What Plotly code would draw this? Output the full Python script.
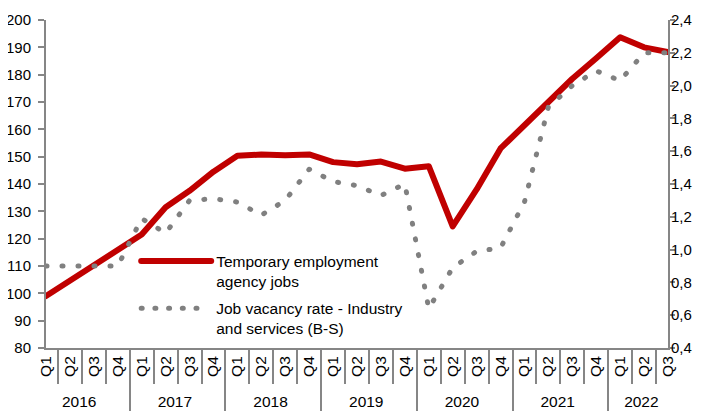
import plotly.graph_objects as go

years = ['2016'] * 4 + ['2017'] * 4 + ['2018'] * 4 + ['2019'] * 4 + ['2020'] * 4 + ['2021'] * 4 + ['2022'] * 3
quarters = ['Q1', 'Q2', 'Q3', 'Q4'] * 6 + ['Q1', 'Q2', 'Q3']

temp_jobs = [99, 104.5, 110, 115.5,
             121.5, 131.5, 137.5, 144.5,
             150.3, 150.8, 150.5, 150.8,
             148, 147.2, 148.2, 145.6,
             146.5, 124.5, 138, 153,
             161.5, 170, 178.5, 186,
             193.7, 190, 188.3]

vacancy = [0.90, 0.90, 0.90, 0.90,
           1.19, 1.10, 1.30, 1.31,
           1.29, 1.21, 1.30, 1.49,
           1.415, 1.39, 1.33, 1.40,
           0.64, 0.89, 0.99, 1.01,
           1.29, 1.87, 2.00, 2.09,
           2.03, 2.20, 2.20]

name_temp = 'Temporary employment<br>agency jobs'
name_vac = 'Job vacancy rate - Industry<br>and services (B-S)'

AX = '#868686'
FAM = 'Liberation Sans, Arial, sans-serif'
FONT = dict(family=FAM, size=15, color='#000000')
XFONT = dict(family=FAM, size=15.5, color='#000000')
LFONT = dict(family=FAM, size=15.5, color='#000000')

fig = go.Figure()
fig.add_trace(go.Scatter(x=[years, quarters], y=temp_jobs, name=name_temp, mode='lines',
                         legendgroup='a',
                         line=dict(color='#C00000', width=6)))
fig.add_trace(go.Scatter(x=[years, quarters], y=vacancy, name=name_vac, mode='lines', yaxis='y2',
                         legendgroup='b',
                         line=dict(color='#808080', width=5, dash='1px,15px')))

fig.update_layout(
    width=712, height=415,
    margin=dict(l=38, r=52, t=12, b=75),
    paper_bgcolor='white', plot_bgcolor='white',
    font=FONT,
    separators=',.',
    showlegend=True,
    legend=dict(x=0.145, y=0.316, xanchor='left', yanchor='top', bgcolor='rgba(0,0,0,0)',
                font=LFONT, itemwidth=70, valign='top', tracegroupgap=4),
    xaxis=dict(type='multicategory', showline=True, linecolor=AX, linewidth=2, automargin=False,
               ticks='outside', ticklen=34, tickcolor=AX, tickwidth=2, tickangle=-90,
               showdividers=True, dividercolor=AX, dividerwidth=2,
               showgrid=False, zeroline=False, tickfont=XFONT),
    yaxis=dict(range=[80, 200], dtick=10, showline=True, linecolor=AX, linewidth=2, automargin=False,
               ticks='outside', ticklen=6, tickcolor=AX, tickwidth=2, ticklabelstandoff=4,
               showgrid=False, zeroline=False, tickfont=FONT),
    yaxis2=dict(range=[0.4, 2.4], dtick=0.2, tickformat='.1f', overlaying='y', side='right',
                automargin=False, ticklabelstandoff=-7,
                showline=True, linecolor=AX, linewidth=2, ticks='outside', ticklen=5,
                tickcolor=AX, tickwidth=2, showgrid=False, zeroline=False, tickfont=FONT),
)

post = """
var gd = document.getElementById('{plot_id}');
gd.querySelectorAll('path').forEach(function(p){
  var inLegend = p.parentNode && p.parentNode.classList && p.parentNode.classList.contains('legendlines');
  if (p.classList.contains('js-line') || inLegend) {
    p.style.strokeLinecap = 'round';
    p.style.strokeLinejoin = 'round';
  }
  if (inLegend && p.style.strokeDasharray) {
    p.style.strokeDasharray = '1px,12.7px,1px,12.7px,1px,12.7px,1px,12.7px,1px,200px';
  }
});
"""

fig.write_html('out.html', post_script=post)
